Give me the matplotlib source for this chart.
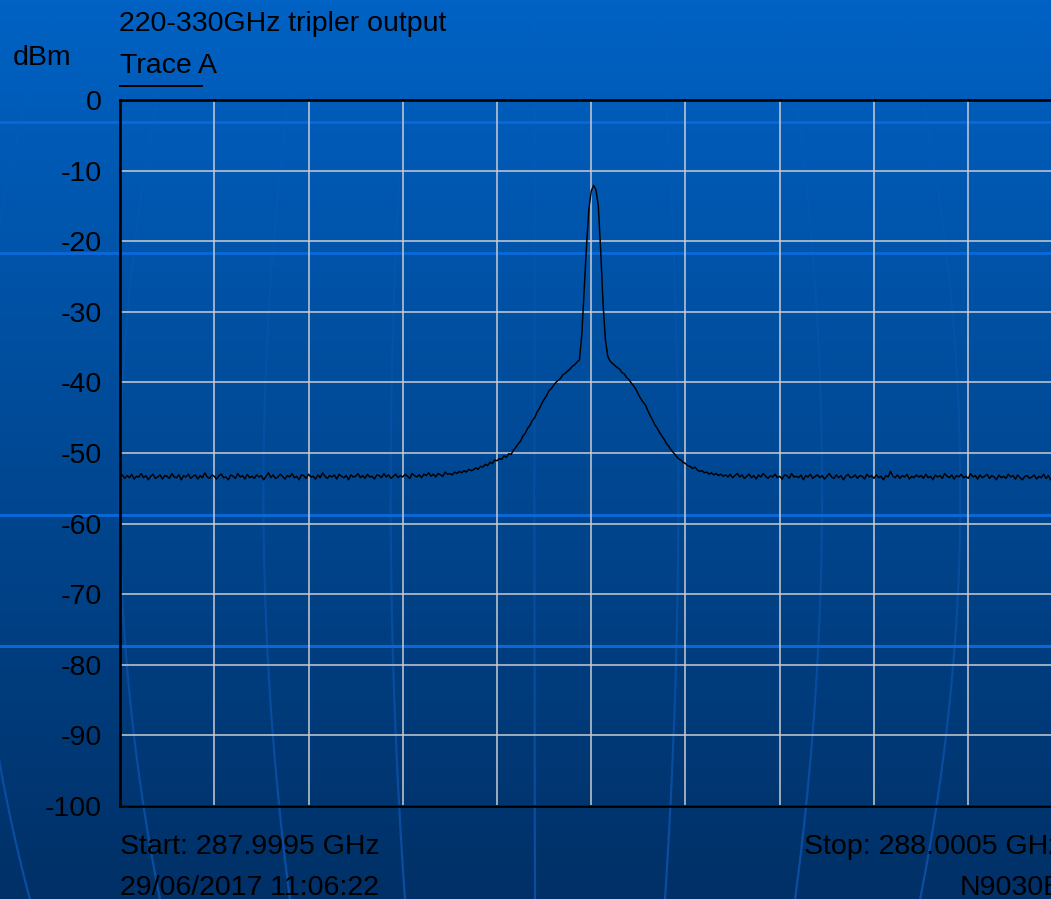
import numpy as np
import matplotlib
matplotlib.use("Agg")
import matplotlib.pyplot as plt
from matplotlib.collections import LineCollection

plt.rcParams['font.family'] = ['Liberation Sans', 'DejaVu Sans']

# sweep settings
f_start = 287.9995   # GHz
f_stop = 288.0005    # GHz
ref_level = 0
bottom_level = -100

# trace A, dBm, 401 sweep points
floor_left = [
    -53.4, -53.1, -53.6, -53.2, -53.5, -53.0, -53.7, -53.3, -53.4, -52.9,
    -53.5, -53.2, -53.8, -53.3, -53.0, -53.6, -53.4, -53.1, -53.7, -53.2,
    -53.3, -53.6, -52.9, -53.4, -53.5, -53.1, -53.8, -53.2, -53.4, -53.0,
    -53.6, -53.3, -53.1, -53.7, -53.2, -53.5, -52.8, -53.4, -53.6, -53.1,
    -53.3, -53.7, -53.2, -53.0, -53.5, -53.4, -53.8, -53.1, -53.3, -53.6,
    -52.9, -53.4, -53.2, -53.7, -53.0, -53.5, -53.3, -53.6, -53.1, -53.4,
    -53.2, -53.8, -53.3, -52.8, -53.5, -53.1, -53.6, -53.4, -53.0, -53.3,
    -53.7, -53.2, -53.4, -52.9, -53.5, -53.3, -53.8, -53.1, -53.2, -53.6,
    -53.0, -53.4, -53.3, -53.7, -53.1, -53.5, -52.8, -53.3, -53.6, -53.2,
    -53.4, -53.1, -53.7, -53.0, -53.3, -53.5, -53.2, -53.8, -53.1, -53.4,
    -53.3, -52.9, -53.5, -53.2, -53.6, -53.0, -53.4, -53.3, -53.7, -53.1,
    -53.2, -53.5, -52.9, -53.4, -53.1, -53.6, -53.3, -53.0, -53.5, -53.2,
    -53.4, -53.0, -53.3, -53.6, -52.9, -53.2, -53.4, -53.1, -53.5, -53.0,
    -53.2, -52.8, -53.3, -53.0, -53.4, -52.9, -53.1, -53.3, -52.7, -53.0,
    -52.9, -53.1, -52.7, -52.9, -52.6, -52.8, -52.5, -52.7, -52.3, -52.5,
]
shoulder_left = [
    -52.4, -52.1, -52.3, -51.9, -52.0, -51.6, -51.8, -51.3, -51.5, -51.0,
    -51.1, -50.8, -50.9, -50.4, -50.6, -50.1, -50.2, -49.6, -49.2, -48.7,
    -48.3, -47.6, -47.2, -46.5, -46.1, -45.4, -45.0, -44.2, -43.7, -43.0,
    -42.4, -41.9, -41.2, -40.9, -40.4, -40.0, -39.7, -39.4, -38.9, -38.7,
    -38.4, -38.1, -37.7, -37.5, -37.1,
]
carrier = [
    -36.8, -33.2, -26.8, -20.6, -15.4, -12.9, -12.1, -12.7, -15.0, -21.3,
    -28.8, -33.9, -36.3,
]
shoulder_right = [
    -37.0, -37.3, -37.6, -37.9, -38.1, -38.6, -38.8, -39.3, -39.6, -40.1,
    -40.5, -41.0, -41.7, -42.3, -42.8, -43.2, -44.0, -44.7, -45.3, -46.0,
    -46.5, -47.1, -47.6, -48.1, -48.7, -49.1, -49.6, -50.0, -50.4, -50.8,
    -51.0, -51.3, -51.5, -51.8, -51.9, -52.2, -52.0, -52.4, -52.6, -52.5,
    -52.8, -52.7, -53.0, -52.8, -53.1, -52.9, -53.2, -53.0, -53.3, -53.1,
]
floor_right = [
    -53.4, -53.0, -53.5, -53.2, -52.9, -53.4, -53.1, -53.6, -53.3, -53.0,
    -53.5, -53.2, -53.7, -53.1, -53.4, -52.9, -53.3, -53.6, -53.2, -53.4,
    -53.0, -53.5, -53.3, -53.7, -53.1, -53.2, -53.6, -52.9, -53.4, -53.3,
    -53.5, -53.1, -53.8, -53.2, -53.4, -53.0, -53.6, -53.3, -53.1, -53.5,
    -53.2, -53.7, -53.3, -52.9, -53.4, -53.6, -53.1, -53.5, -53.2, -53.8,
    -53.3, -53.0, -53.5, -53.4, -53.1, -53.6, -53.2, -53.3, -53.7, -53.0,
    -53.4, -53.2, -53.6, -53.1, -53.5, -53.3, -53.8, -53.2, -53.4, -52.6,
    -53.3, -53.5, -53.1, -53.6, -53.2, -53.4, -53.0, -53.7, -53.3, -53.5,
    -53.1, -53.4, -53.2, -53.6, -53.0, -53.5, -53.3, -53.8, -53.1, -53.4,
    -53.2, -53.6, -52.9, -53.3, -53.5, -53.1, -53.7, -53.2, -53.4, -53.0,
    -53.5, -53.3, -53.6, -52.9, -53.4, -53.2, -53.7, -53.1, -53.5, -53.3,
    -53.0, -53.6, -53.2, -53.4, -53.8, -53.1, -53.5, -53.3, -53.6, -53.0,
    -53.4, -53.2, -53.7, -53.1, -53.5, -53.8, -53.3, -53.2, -53.6, -53.4,
    -53.1, -53.7, -53.3, -53.5, -53.0, -53.6, -53.2, -53.8, -53.4, -53.5,
    -53.3, -53.6, -53.4,
]

level = np.array(floor_left + shoulder_left + carrier + shoulder_right + floor_right)
freq = np.linspace(f_start, f_stop, len(level))

W, H = 1051, 899
fig = plt.figure(figsize=(W / 100, H / 100), dpi=100)

# slide background: blue gradient with light stripes
bg = fig.add_axes([0, 0, 1, 1], zorder=0)
grad = np.linspace(0, 1, 256)[:, None]
top = np.array([0, 98, 196]) / 255
bot = np.array([0, 48, 102]) / 255
img = top[None, None, :] * (1 - grad[:, :, None]) + bot[None, None, :] * grad[:, :, None]
bg.imshow(img, extent=[0, W, H, 0], aspect='auto')
bg.set_xlim(0, W)
bg.set_ylim(H, 0)
bg.axis('off')

for yy in [122, 253, 515, 646]:
    bg.axhline(yy, color='#0a68d6', lw=2.2)

# faint curved meridians, fading out towards the top
yy = np.linspace(0, H, 200)
bulge = 0.95 + 6.34e-4 * yy - 6.43e-7 * yy ** 2
fade = 0.08 + 0.5 * (yy[:-1] / H) ** 1.5
for d in [-510, -380, -250, -135, -5, 125, 255, 380, 515]:
    xs = 540 + d * bulge
    pts = np.column_stack([xs, yy])
    segs = np.stack([pts[:-1], pts[1:]], axis=1)
    cols = np.zeros((len(segs), 4))
    cols[:, :3] = np.array([21, 101, 207]) / 255
    cols[:, 3] = fade
    bg.add_collection(LineCollection(segs, colors=cols, linewidths=1.6))

# analyzer trace
ax = fig.add_axes([120 / W, (H - 806) / H, 942.5 / W, 706 / H], zorder=2)
ax.patch.set_alpha(0)
ax.plot(freq, level, color='black', lw=1.05, zorder=3)

ax.set_xlim(f_start, f_stop)
ax.set_ylim(bottom_level, ref_level)
ax.set_xticks(np.linspace(f_start, f_stop, 11))
ax.set_xticklabels([])
ax.set_yticks(np.arange(bottom_level, ref_level + 1, 10))
ax.set_yticklabels([str(v) for v in range(bottom_level, ref_level + 1, 10)])
ax.tick_params(axis='both', length=0)
ax.tick_params(axis='y', pad=13, labelsize=20.5, labelcolor='black')
ax.grid(True, color='#c9ccd2', lw=1.1)
for s in ['left', 'top', 'bottom', 'right']:
    ax.spines[s].set_color('black')
    ax.spines[s].set_linewidth(1.9)

def px(x, y):
    return x / W, 1 - y / H

fs = 20.5
fig.text(*px(119, 31), '220-330GHz tripler output', fontsize=fs, va='baseline')
fig.text(*px(120, 73), 'Trace A', fontsize=fs, va='baseline')
fig.add_artist(plt.Line2D([120 / W, 202 / W], [1 - 86 / H, 1 - 86 / H], color='black', lw=1.4))
fig.text(*px(13, 65), 'dBm', fontsize=fs, va='baseline')
fig.text(*px(120, 854), 'Start: 287.9995 GHz', fontsize=fs, va='baseline')
fig.text(*px(120, 895), '29/06/2017 11:06:22', fontsize=fs, va='baseline')
# the instrument footer runs past the right edge of the slide, as in the original
fig.text(*px(1062.5, 854), 'Stop: 288.0005 GHz', fontsize=fs, va='baseline', ha='right')
fig.text(*px(1062.5, 895), 'N9030B', fontsize=fs, va='baseline', ha='right')

fig.savefig('out.png', dpi=100)
